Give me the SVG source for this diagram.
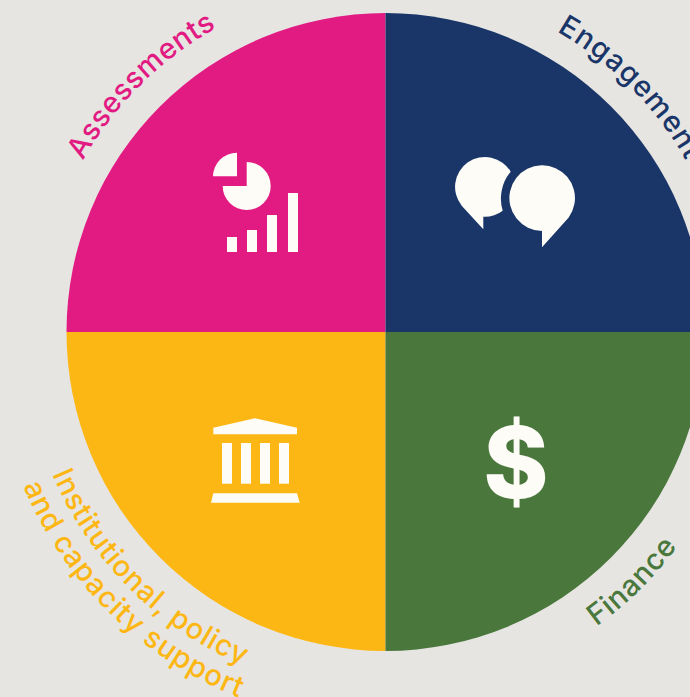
<svg xmlns="http://www.w3.org/2000/svg" width="690" height="697" viewBox="0 0 690 697">
<style>
.ico{fill:#FDFCF7}
.lbl{font-family:"Inter","Liberation Sans",sans-serif;font-size:29px;font-weight:500;letter-spacing:.8px}
</style>
<defs>
<path id="pa" d="M 83 160.500 A 347.700 347.700 0 0 1 385.500 -15.700"/>
<path id="pe" d="M 556.800 31.400 A 346 346 0 0 1 731.500 332"/>
<path id="pi" d="M 52 474 A 362.500 362.500 0 0 0 385.500 694.500"/>
<path id="pc" d="M 23 486 A 394 394 0 0 0 385.500 726"/>
<path id="pf" d="M 596.500 626.500 A 362 362 0 0 0 747.500 332"/>
</defs>
<rect width="690" height="697" fill="#E6E5E2"/>
<g id="assessments">
<path d="M385.500 332V13A319 319 0 0 0 66.500 332Z" fill="#E21B83"/>
<path class="ico" d="M237 152.700V176.300H213A24 24 0 0 1 237 152.700Z"/>
<path class="ico" d="M246.700 162V186H222.700A24 24 0 1 0 246.700 162Z"/>
<rect class="ico" x="227" y="237" width="10" height="15"/>
<rect class="ico" x="247" y="230" width="10" height="22"/>
<rect class="ico" x="267" y="215" width="10" height="37"/>
<rect class="ico" x="288" y="193" width="10" height="59"/>
<text class="lbl" fill="#E21B83" style="letter-spacing:.5px"><textPath href="#pa">Assessments</textPath></text>
</g>
<g id="engagement">
<path d="M385.500 332V13A319 319 0 0 1 704.500 332Z" fill="#1A3668"/>
<path class="ico" d="M510.700 171.700A29.900 29.900 0 1 0 461.700 205.700L483.300 229.300V216.800A29.900 29.900 0 0 0 502.700 210.700A41.700 41.700 0 0 1 510.700 171.700Z"/>
<path class="ico" d="M568.700 217.400A32.800 32.800 0 1 0 542 230.900V247.300Z"/>
<text class="lbl" fill="#1A3668" style="letter-spacing:1.1px"><textPath href="#pe">Engagement</textPath></text>
</g>
<g id="institutional">
<path d="M385.500 332V651A319 319 0 0 1 66.500 332Z" fill="#FDB714"/>
<path class="ico" d="M213.300 427.700L255 418.300L297 427.700V434.300H213.300Z"/>
<rect class="ico" x="222" y="443" width="10" height="40.700"/>
<rect class="ico" x="241" y="443" width="10" height="40.700"/>
<rect class="ico" x="260" y="443" width="10" height="40.700"/>
<rect class="ico" x="279" y="443" width="10" height="40.700"/>
<path class="ico" d="M213.300 493.300H297L299.700 502.700H211Z"/>
<text class="lbl" fill="#FDB714"><textPath href="#pi">Institutional, policy</textPath></text>
<text class="lbl" fill="#FDB714"><textPath href="#pc">and capacity support</textPath></text>
</g>
<g id="finance">
<path d="M385.500 332V651A319 319 0 0 0 704.500 332Z" fill="#4A773C"/>
<text class="ico" x="516" y="497.500" text-anchor="middle" font-family="Inter,'Liberation Sans',sans-serif" font-size="99" font-weight="800">$</text>
<text class="lbl" fill="#4A773C"><textPath href="#pf">Finance</textPath></text>
</g>
<g id="connectors"></g>
</svg>
